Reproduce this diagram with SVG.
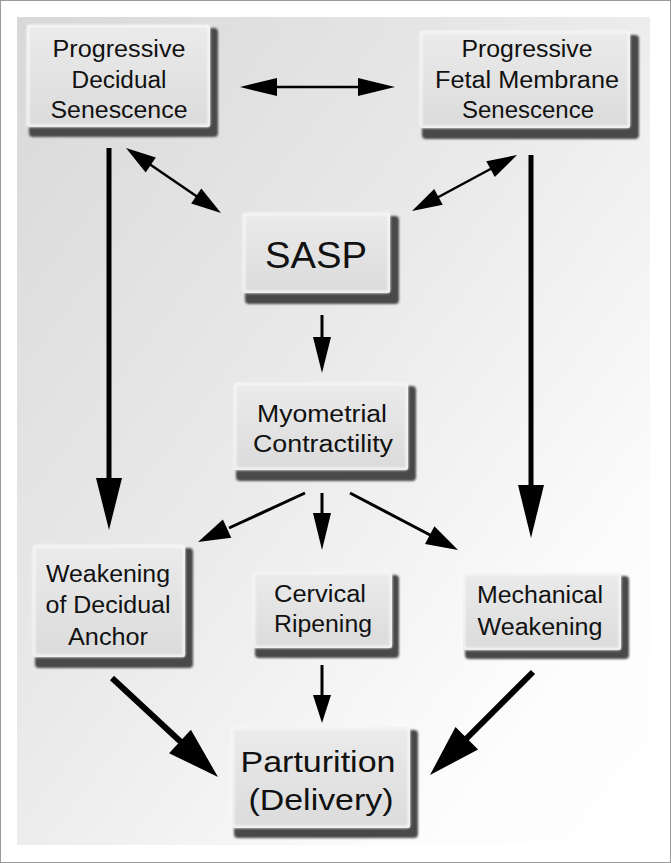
<svg xmlns="http://www.w3.org/2000/svg" width="671" height="863" viewBox="0 0 671 863">
<defs>
  <linearGradient id="bg" x1="0" y1="0" x2="1" y2="1">
    <stop offset="0" stop-color="#d8d8d8"/>
    <stop offset="0.45" stop-color="#eaeaea"/>
    <stop offset="0.8" stop-color="#fcfcfc"/>
    <stop offset="1" stop-color="#ffffff"/>
  </linearGradient>
  <linearGradient id="face" x1="0" y1="0" x2="0" y2="1">
    <stop offset="0" stop-color="#ebebeb"/>
    <stop offset="1" stop-color="#dbdbdb"/>
  </linearGradient>
  <filter id="blur" x="-10%" y="-10%" width="120%" height="130%">
    <feGaussianBlur stdDeviation="1.1"/>
  </filter>
  <filter id="glow" x="-10%" y="-10%" width="120%" height="120%">
    <feGaussianBlur stdDeviation="1.2"/>
  </filter>
</defs>
<style>
  .shadow { fill: #484848; filter: url(#blur); }
  .face { fill: url(#face); }
  .hl { fill: none; stroke: #f8f8f8; stroke-width: 2.5; filter: url(#glow); }
  .t { font-family: "Liberation Sans", Arial, sans-serif; font-size: 23px; fill: #111; text-anchor: middle; }
  .big { font-size: 37px; }
  .mid { font-size: 30px; }
  .ln { stroke: #000; fill: none; stroke-linecap: butt; }
  .hd { fill: #000; }
</style>

<rect x="0.5" y="0.5" width="670" height="862" fill="#ffffff" stroke="#9a9a9a" stroke-width="1"/>
<rect x="17" y="17" width="633" height="828" fill="url(#bg)"/>

<g id="connectors">
  <line class="ln" x1="270" y1="87" x2="365" y2="87" stroke-width="2.5"/>
  <polygon class="hd" points="240,87 277,78 277,96"/>
  <polygon class="hd" points="395,87 358,78 358,96"/>
  <line class="ln" x1="145" y1="161" x2="202" y2="200" stroke-width="2.5"/>
  <polygon class="hd" points="126,148 145.7,172.4 155.8,157.5"/>
  <polygon class="hd" points="221,213 191.2,203.5 201.3,188.6"/>
  <line class="ln" x1="497" y1="165.5" x2="432" y2="200.5" stroke-width="2.5"/>
  <polygon class="hd" points="517,155 486.3,161.2 494.8,177.1"/>
  <polygon class="hd" points="412,211 434.2,188.9 442.7,204.8"/>
  <line class="ln" x1="109" y1="148" x2="109" y2="480" stroke-width="5"/>
  <polygon class="hd" points="109,530 96,478 122,478"/>
  <line class="ln" x1="531" y1="155" x2="531" y2="487" stroke-width="5"/>
  <polygon class="hd" points="531,538 518,485 544,485"/>
  <line class="ln" x1="322" y1="315" x2="322" y2="340" stroke-width="3"/>
  <polygon class="hd" points="322,373 313,337 331,337"/>
  <line class="ln" x1="305" y1="493" x2="229" y2="528" stroke-width="3"/>
  <polygon class="hd" points="198,542 222.9,519.6 231.3,537.8"/>
  <line class="ln" x1="322" y1="493" x2="322" y2="515" stroke-width="3"/>
  <polygon class="hd" points="322,550 313,513 331,513"/>
  <line class="ln" x1="350" y1="493" x2="432" y2="536" stroke-width="3"/>
  <polygon class="hd" points="458,550 425.0,543.9 434.4,526.2"/>
  <line class="ln" x1="112" y1="678" x2="182" y2="743" stroke-width="6"/>
  <polygon class="hd" points="218,777 169.1,753.2 190.9,729.8"/>
  <line class="ln" x1="322" y1="665" x2="322" y2="697" stroke-width="3"/>
  <polygon class="hd" points="322,723 313,695 331,695"/>
  <line class="ln" x1="533" y1="672" x2="465" y2="740" stroke-width="6"/>
  <polygon class="hd" points="430,775 455.5,726.9 478.1,749.5"/>
</g>

<g id="node-pds">
  <rect class="shadow" x="29" y="28" width="189" height="109" rx="4"/>
  <rect class="face" x="27" y="25" width="183" height="102" rx="2"/>
  <rect class="hl" x="28" y="26" width="181" height="100" rx="2"/>
  <text class="t" x="119" y="57" textLength="133" lengthAdjust="spacingAndGlyphs">Progressive</text>
  <text class="t" x="119" y="88" textLength="95" lengthAdjust="spacingAndGlyphs">Decidual</text>
  <text class="t" x="119" y="118" textLength="137" lengthAdjust="spacingAndGlyphs">Senescence</text>
</g>

<g id="node-pfms">
  <rect class="shadow" x="422" y="35" width="217" height="104" rx="4"/>
  <rect class="face" x="420" y="31" width="210" height="97" rx="2"/>
  <rect class="hl" x="421" y="32" width="208" height="95" rx="2"/>
  <text class="t" x="527" y="57" textLength="131" lengthAdjust="spacingAndGlyphs">Progressive</text>
  <text class="t" x="527" y="88" textLength="184" lengthAdjust="spacingAndGlyphs">Fetal Membrane</text>
  <text class="t" x="528" y="118" textLength="132" lengthAdjust="spacingAndGlyphs">Senescence</text>
</g>

<g id="node-sasp">
  <rect class="shadow" x="245" y="216" width="154" height="88" rx="4"/>
  <rect class="face" x="243" y="213" width="147" height="80" rx="2"/>
  <rect class="hl" x="244" y="214" width="145" height="78" rx="2"/>
  <text class="t big" x="316" y="268" textLength="102" lengthAdjust="spacingAndGlyphs">SASP</text>
</g>

<g id="node-myo">
  <rect class="shadow" x="236" y="386" width="180" height="95" rx="4"/>
  <rect class="face" x="234" y="383" width="174" height="87" rx="2"/>
  <rect class="hl" x="235" y="384" width="172" height="85" rx="2"/>
  <text class="t" x="322" y="422" textLength="130" lengthAdjust="spacingAndGlyphs">Myometrial</text>
  <text class="t" x="323" y="452" textLength="140" lengthAdjust="spacingAndGlyphs">Contractility</text>
</g>

<g id="node-weak">
  <rect class="shadow" x="35" y="548" width="158" height="120" rx="4"/>
  <rect class="face" x="33" y="545" width="152" height="112" rx="2"/>
  <rect class="hl" x="34" y="546" width="150" height="110" rx="2"/>
  <text class="t" x="108" y="582" textLength="124" lengthAdjust="spacingAndGlyphs">Weakening</text>
  <text class="t" x="108" y="613" textLength="125" lengthAdjust="spacingAndGlyphs">of Decidual</text>
  <text class="t" x="108" y="645" textLength="80" lengthAdjust="spacingAndGlyphs">Anchor</text>
</g>

<g id="node-cerv">
  <rect class="shadow" x="255" y="575" width="144" height="83" rx="4"/>
  <rect class="face" x="253" y="572" width="139" height="76" rx="2"/>
  <rect class="hl" x="254" y="573" width="137" height="74" rx="2"/>
  <text class="t" x="320" y="602" textLength="92" lengthAdjust="spacingAndGlyphs">Cervical</text>
  <text class="t" x="323" y="632" textLength="98" lengthAdjust="spacingAndGlyphs">Ripening</text>
</g>

<g id="node-mech">
  <rect class="shadow" x="465" y="576" width="164" height="83" rx="4"/>
  <rect class="face" x="463" y="573" width="158" height="77" rx="2"/>
  <rect class="hl" x="464" y="574" width="156" height="75" rx="2"/>
  <text class="t" x="540" y="603" textLength="126" lengthAdjust="spacingAndGlyphs">Mechanical</text>
  <text class="t" x="540" y="635" textLength="125" lengthAdjust="spacingAndGlyphs">Weakening</text>
</g>

<g id="node-part">
  <rect class="shadow" x="234" y="730" width="184" height="108" rx="4"/>
  <rect class="face" x="232" y="727" width="178" height="101" rx="2"/>
  <rect class="hl" x="233" y="728" width="176" height="99" rx="2"/>
  <text class="t mid" x="318" y="772" textLength="155" lengthAdjust="spacingAndGlyphs">Parturition</text>
  <text class="t mid" x="321" y="810" textLength="145" lengthAdjust="spacingAndGlyphs">(Delivery)</text>
</g>
</svg>
